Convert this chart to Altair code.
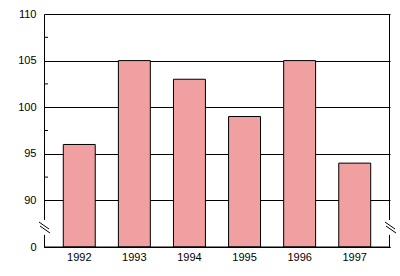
import altair as alt
import pandas as pd

years = ["1992", "1993", "1994", "1995", "1996", "1997"]
values = [96, 105, 103, 99, 105, 94]
axis_values = [85, 90, 95, 100, 105, 110]
minor_ticks = [92.5, 97.5, 102.5, 107.5]
BASE = 85

df = pd.DataFrame({"year": years, "value": values, "base": [BASE] * len(years)})
df_minor = pd.DataFrame({"v": minor_ticks})
one = pd.DataFrame({"k": [0]})

W, H = 346, 233
FONT = "Liberation Sans"
yscale = alt.Scale(domain=[85, 110], nice=False, zero=False)
xscale = alt.Scale(paddingInner=0.42, paddingOuter=0.35)

y_axis = alt.Axis(title=None, values=axis_values,
                  labelExpr="datum.value == 85 ? '0' : datum.label",
                  grid=True, gridColor="black", gridOpacity=1, gridWidth=1,
                  ticks=False, tickSize=0, labelPadding=8, domainColor="black",
                  domainWidth=1, labelFont=FONT, labelFontSize=11, labelColor="black",
                  zindex=0)

bars = alt.Chart(df).mark_bar(fill="#f0a0a0", stroke="black", strokeWidth=1).encode(
    x=alt.X("year:N", scale=xscale, sort=years,
            axis=alt.Axis(title=None, labelAngle=0, ticks=False, tickSize=0, labelPadding=4,
                          domain=True, domainColor="black", domainWidth=1, labelFont=FONT,
                          labelFontSize=11, labelColor="black", grid=False, zindex=0)),
    y=alt.Y("value:Q", scale=yscale, axis=y_axis),
    y2="base:Q",
)

bottom_border = alt.Chart(one).mark_rule(color="black", strokeWidth=1).encode(
    y=alt.datum(85, scale=yscale, axis=y_axis), x=alt.value(0), x2=alt.value(W)
)

right_border = alt.Chart(one).mark_rule(color="black", strokeWidth=1).encode(
    x=alt.value(W - 0.5), y=alt.value(0), y2=alt.value(H)
)

minor = alt.Chart(df_minor).mark_rule(color="black", strokeWidth=1).encode(
    y=alt.Y("v:Q", scale=yscale, axis=y_axis), x=alt.value(0), x2=alt.value(4)
)

gap_left = alt.Chart(one).mark_rect(fill="white").encode(
    x=alt.value(-3), x2=alt.value(3),
    y=alt.datum(87.9, scale=yscale, axis=y_axis), y2=alt.datum(86.3)
)
gap_right = alt.Chart(one).mark_rect(fill="white").encode(
    x=alt.value(W - 3), x2=alt.value(W + 3),
    y=alt.datum(87.9, scale=yscale, axis=y_axis), y2=alt.datum(86.3)
)

def slash(x0, ya, yb):
    return alt.Chart(one).mark_rule(color="black", strokeWidth=1).encode(
        x=alt.value(x0), x2=alt.value(x0 + 10),
        y=alt.datum(ya, scale=yscale, axis=y_axis), y2=alt.datum(yb)
    )

slashes = [slash(-5, 87.68, 86.93), slash(-4, 87.25, 86.50),
           slash(W - 5, 87.68, 86.93), slash(W - 4, 87.25, 86.50)]

chart = alt.layer(bars, bottom_border, right_border, minor, gap_left, gap_right, *slashes).properties(
    width=W, height=H,
    autosize=alt.AutoSizeParams(type="none"),
    padding={"left": 44, "top": 14, "right": 10, "bottom": 29},
    background="white",
).configure_view(strokeWidth=0)

chart.save("out.html", embed_options={"renderer": "svg", "actions": False})
